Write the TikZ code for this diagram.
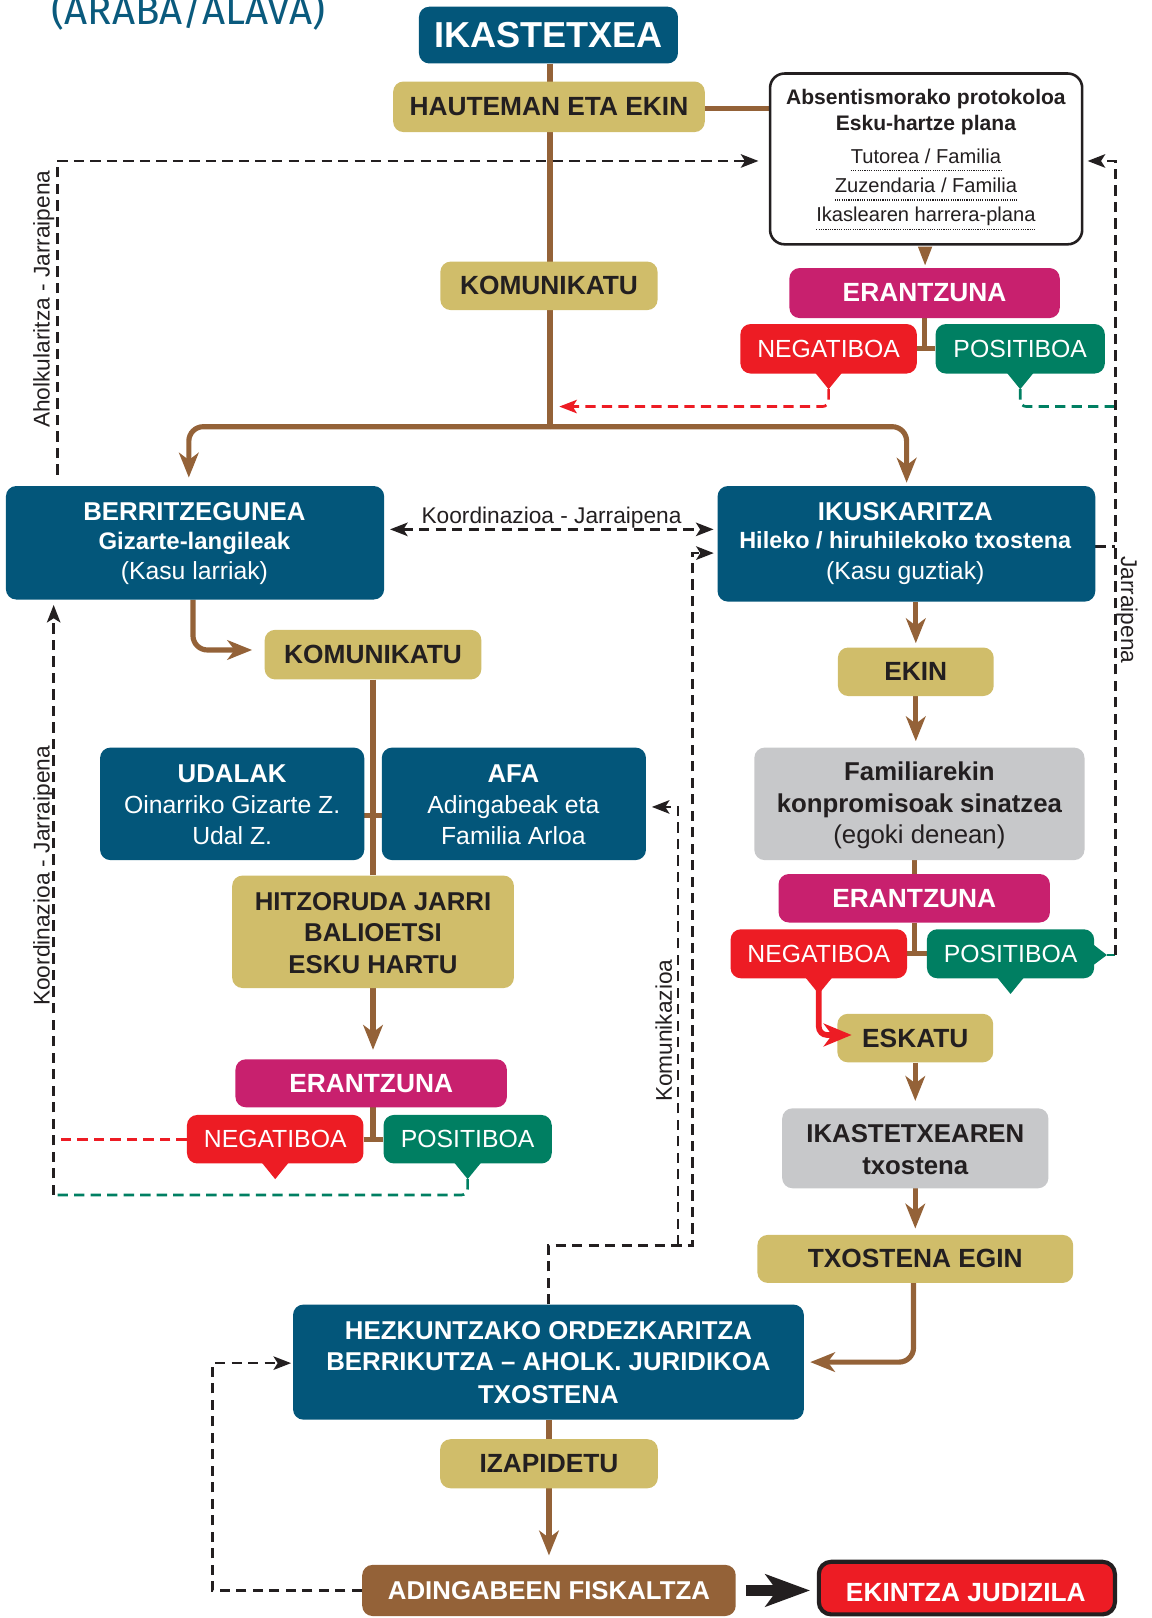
\documentclass[tikz,border=0pt]{standalone}
\usepackage{fontspec}
\setmainfont{Liberation Sans}
\newfontfamily\titlefont{Fira Sans}
\usetikzlibrary{arrows.meta,calc}
\definecolor{cblue}{RGB}{3,86,122}
\definecolor{cgold}{RGB}{208,189,106}
\definecolor{cmag}{RGB}{200,32,110}
\definecolor{cred}{RGB}{237,28,36}
\definecolor{cgreen}{RGB}{0,127,98}
\definecolor{cgray}{RGB}{199,200,202}
\definecolor{cbrown}{RGB}{148,98,56}
\definecolor{cdark}{RGB}{35,31,32}
\definecolor{ctitle}{RGB}{10,90,125}
\pgfdeclarelayer{bg}
\pgfsetlayers{bg,main}
\newcommand\fsz[1]{\fontsize{#1}{#1}\selectfont}
\newcommand\mkptr[3]{%
  \fill[#2] ($(#1.south)+(-13,-1)$) -- ($(#1.south)+(0,15)$) -- ($(#1.south)+(13,-1)$) -- cycle;
  \coordinate (#3) at ($(#1.south)+(0,15)$);}
\tikzset{
  bx/.style 2 args={minimum width=#1pt, minimum height=#2pt},
  boxbase/.style={rectangle, rounded corners=10pt, inner sep=0pt},
  blu/.style={boxbase, fill=cblue, text=white, font=\bfseries\fsz{25}},
  gld/.style={boxbase, fill=cgold, text=cdark, font=\bfseries\fsz{25.5}},
  mag/.style={boxbase, fill=cmag, text=white, font=\bfseries\fsz{25.5}},
  negb/.style={boxbase, fill=cred, text=white, font=\fsz{24}},
  posb/.style={boxbase, fill=cgreen, text=white, font=\fsz{24}},
  gry/.style={boxbase, fill=cgray, text=cdark},
  lt/.style={inner sep=0pt, outer sep=0pt, anchor=base},
  wb/.style={lt, text=white, font=\bfseries\fsz{#1}},
  wr/.style={lt, text=white, font=\fsz{#1}},
  db/.style={lt, text=cdark, font=\bfseries\fsz{#1}},
  dr/.style={lt, text=cdark, font=\fsz{#1}},
  lbl/.style={lt, text=cdark, font=\fsz{22}},
  brn/.style={draw=cbrown, line width=5pt},
  brnarrow/.style={-{Stealth[length=24pt,width=19pt,inset=7pt]}},
  karrow/.style={-{Stealth[length=17pt,width=13pt,inset=4pt]}},
  dsh/.style={line width=2.6pt, dash pattern=on 10pt off 6pt},
  kdash/.style={dsh, draw=cdark},
  rdash/.style={dsh, draw=cred},
  gdash/.style={dsh, draw=cgreen},
  dotl/.style={draw=cdark, line width=1.3pt, dash pattern=on 1.1pt off 1.1pt}
}
\begin{document}
\begin{tikzpicture}[x=1pt,y=-1pt]
\useasboundingbox (0,0) rectangle (1115.5,1568);

% title
\node[lt, anchor=base west, text=ctitle, font=\titlefont\fsz{39}] (title) at (50,24.2) {(ARABA/ALAVA)};

% ---------- boxes ----------
\node[blu, bx={251}{55}, font=\bfseries\fsz{35}] (ikast) at (531.5,34) {IKASTETXEA};
\node[gld, bx={302}{49}] (haut) at (532,103.5) {HAUTEMAN ETA EKIN};
\node[boxbase, draw=cdark, line width=2.5pt, fill=white, rounded corners=14pt, bx={302.5}{165.5}] (abs) at (897.5,154) {};
\node[gld, bx={210.5}{47}] (komu1) at (532,277) {KOMUNIKATU};
\node[mag, bx={262}{48.5}] (er1) at (896,284) {ERANTZUNA};
\node[negb, bx={171}{48}] (neg1) at (803,338) {NEGATIBOA};
\node[posb, bx={164}{48}] (pos1) at (988.7,338) {POSITIBOA};
\node[blu, bx={366.5}{110}] (berri) at (189,526) {};
\node[blu, bx={366}{112}] (ikus) at (878.4,527) {};
\node[gld, bx={210}{48}] (komu2) at (361.5,634.4) {KOMUNIKATU};
\node[blu, bx={256}{109}] (udal) at (225,779) {};
\node[blu, bx={256}{109}] (afa) at (498,779) {};
\node[gld, bx={273}{109}] (hitz) at (361.5,903) {};
\node[mag, bx={263}{46.5}] (er2) at (359.7,1049.8) {ERANTZUNA};
\node[negb, bx={171}{47}] (neg2) at (266.7,1104) {NEGATIBOA};
\node[posb, bx={163}{47}] (pos2) at (453.2,1104) {POSITIBOA};
\node[gld, bx={151}{47}] (ekin) at (887.5,651) {EKIN};
\node[gry, bx={320}{109}] (fam) at (891,779) {};
\node[mag, bx={263}{47}] (er3) at (886,870.5) {ERANTZUNA};
\node[negb, bx={171}{47.5}] (neg3) at (793.5,924.3) {NEGATIBOA};
\node[posb, bx={162}{47.5}] (pos3) at (979.3,924.3) {POSITIBOA};
\node[gld, bx={151}{47}] (eskatu) at (887,1006) {ESKATU};
\node[gry, bx={258}{77.5}] (ikrep) at (887,1112.8) {};
\node[gld, bx={306}{46.5}] (txeg) at (887,1220) {TXOSTENA EGIN};
\node[blu, bx={495}{111.5}] (hezk) at (531.5,1320) {};
\node[gld, bx={211}{47.5}] (izap) at (532,1418.5) {IZAPIDETU};
\node[boxbase, fill=cbrown, text=white, font=\bfseries\fsz{25}, bx={362}{49.5}] (fisk) at (532,1541.3) {ADINGABEEN FISKALTZA};
\node[boxbase, fill=cred, draw=cdark, line width=4pt, rounded corners=12pt, bx={287}{51}] (jud) at (937,1539) {};
\node[wb=25.5] (judT) at (936,1552) {EKINTZA JUDIZILA};

% ---------- texts inside boxes ----------
\node[db=20.4] (absA) at (897.3,101) {Absentismorako protokoloa};
\node[db=20.4] (absB) at (897.3,126) {Esku-hartze plana};
\node[dr=19.5] (absC) at (897.3,158.3) {Tutorea / Familia};
\node[dr=19.5] (absD) at (897.3,186.7) {Zuzendaria / Familia};
\node[dr=19.5] (absE) at (897.3,214.8) {Ikaslearen harrera-plana};
\draw[dotl] ($(absC.base west)+(0,7.2)$) -- ($(absC.base east)+(0,7.2)$);
\draw[dotl] ($(absD.base west)+(0,7.2)$) -- ($(absD.base east)+(0,7.2)$);
\draw[dotl] ($(absE.base west)+(0,7.4)$) -- ($(absE.base east)+(0,7.4)$);

\node[wb=25] (berriA) at (188.4,504.8) {BERRITZEGUNEA};
\node[wb=23.2] (berriB) at (188.4,532.3) {Gizarte-langileak};
\node[wr=24] (berriC) at (188.4,562) {(Kasu larriak)};

\node[wb=25] (ikusA) at (877.3,504.5) {IKUSKARITZA};
\node[wb=22.7] (ikusB) at (877.3,532) {Hileko / hiruhilekoko txostena};
\node[wr=24] (ikusC) at (877.3,562) {(Kasu guztiak)};

\node[wb=25] (udalA) at (225,758) {UDALAK};
\node[wr=24] (udalB) at (225,788) {Oinarriko Gizarte Z.};
\node[wr=24] (udalC) at (225,818.8) {Udal Z.};

\node[wb=25] (afaA) at (497.5,758) {AFA};
\node[wr=24] (afaB) at (497.5,788) {Adingabeak eta};
\node[wr=24] (afaC) at (497.5,818.8) {Familia Arloa};

\node[db=25] (hitzA) at (361.5,881.9) {HITZORUDA JARRI};
\node[db=25] (hitzB) at (361.5,912.5) {BALIOETSI};
\node[db=25] (hitzC) at (361.5,943.1) {ESKU HARTU};

\node[db=25] (famA) at (891,756.8) {Familiarekin};
\node[db=25] (famB) at (891,787.5) {konpromisoak sinatzea};
\node[dr=25] (famC) at (891,817.2) {(egoki denean)};

\node[db=25] (ikrepA) at (887,1107.2) {IKASTETXEAREN};
\node[db=25] (ikrepB) at (887,1138.6) {txostena};

\node[wb=25] (hezkA) at (531.5,1297.8) {HEZKUNTZAKO ORDEZKARITZA};
\node[wb=25] (hezkB) at (531.5,1328.2) {BERRIKUTZA – AHOLK. JURIDIKOA};
\node[wb=25] (hezkC) at (531.5,1359.8) {TXOSTENA};

% ---------- labels ----------
\node[lbl, rotate=90] (lblAhol) at (48.2,290) {Aholkularitza - Jarraipena};
\node[lbl, rotate=90] (lblKoorV) at (48.2,848.8) {Koordinazioa - Jarraipena};
\node[lbl, rotate=90] (lblKomu) at (651,998.8) {Komunikazioa};
\node[lbl, rotate=-90] (lblJarr) at (1086.5,591) {Jarraipena};
\node[lbl] (lblKoorH) at (534.5,507) {Koordinazioa - Jarraipena};

% ---------- pointers ----------
\mkptr{neg1}{cred}{neg1t}
\mkptr{pos1}{cgreen}{pos1t}
\mkptr{neg2}{cred}{neg2t}
\mkptr{pos2}{cgreen}{pos2t}
\mkptr{neg3}{cred}{neg3t}
\mkptr{pos3}{cgreen}{pos3t}
\fill[cgreen] ($(pos3.east)+(-1,-9)$) -- ($(pos3.east)+(12.2,1.2)$) -- ($(pos3.east)+(-1,11)$) -- cycle;
\coordinate (pos3r) at ($(pos3.east)+(12.2,1.2)$);
\fill[cbrown] ($(abs.south)+(-8,1)$) -- ($(abs.south)+(-1,19)$) -- ($(abs.south)+(6,1)$) -- cycle;

% ---------- connectors (background) ----------
\begin{pgfonlayer}{bg}
\coordinate (J) at (533,413.5);
\draw[brn] (ikast.south -| J) -- (J);
\draw[brn] ($(haut.east)+(0,1.5)$) -- ($(abs.west)+(0,-49)$);
\draw[brn, brnarrow, rounded corners=14pt] (J) -| ($(berri.north)+(-6,-8)$);
\draw[brn, brnarrow, rounded corners=14pt] (J) -| ($(ikus.north)+(0.2,-3)$);
\draw[brn] (er1.south) -- (er1.south |- neg1.east);
\draw[brn] (neg1.east) -- (pos1.west);

\coordinate (trunkR) at (542,394);
\draw[rdash, karrow, rounded corners=6pt] (neg1t) |- (trunkR);
\coordinate (RV1) at (1081,394);
\draw[gdash, rounded corners=6pt] (pos1t) |- (RV1);
\draw[gdash] (pos3r) -- (pos3r -| RV1);
\draw[kdash, karrow] (pos3r -| RV1) |- ($(abs.east)+(4,2)$);
\draw[kdash] ($(ikus.east)+(0,2.7)$) -- ($(ikus.east -| RV1)+(0,2.7)$);

\coordinate (tlA) at (55.6,460);
\draw[kdash, karrow] (tlA) |- ($(abs.west)+(-10,2)$);

\draw[kdash, {Stealth[length=17pt,width=13pt,inset=4pt]}-{Stealth[length=17pt,width=13pt,inset=4pt]}] ($(berri.east)+(5.5,-13)$) -- ($(ikus.west)+(-3.7,-14)$);

\coordinate (kR) at (671,1207);
\coordinate (kL) at (657,1207);
\draw[kdash, karrow] (hezk.north) |- (kR) |- ($(ikus.west)+(-3.5,9)$);
\draw[kdash, karrow] (kL) |- ($(afa.east)+(5.5,3)$);

\draw[brn, brnarrow, rounded corners=14pt] ($(berri.south)+(-2,0)$) |- ($(komu2.west)+(-12,-4.5)$);
\draw[brn] (komu2.south) -- (hitz.north);
\draw[brn] ($(udal.east)+(0,11)$) -- ($(afa.west)+(0,11)$);
\draw[brn, brnarrow] (hitz.south) -- ($(er2.north)+(1.8,-9)$);
\draw[brn] (hitz.south |- er2.south) -- (hitz.south |- neg2.east);
\draw[brn] (neg2.east) -- (pos2.west);

\coordinate (LV) at (52,1158);
\draw[rdash] (neg2.west) -- (neg2.west -| LV);
\draw[gdash, rounded corners=6pt] (pos2t) |- (LV);
\draw[kdash, karrow] (LV) -- ($(berri.south -| LV)+(0,5)$);

\draw[brn, brnarrow] (ikus.south -| ekin.north) -- ($(ekin.north)+(0,-4)$);
\draw[brn, brnarrow] (ekin.south) -- ($(fam.north -| ekin.south)+(0,-6)$);
\draw[brn] (fam.south -| er3.north) -- (er3.north);
\draw[brn] (er3.south) -- (er3.south |- neg3.east);
\draw[brn] (neg3.east) -- (pos3.west);
\draw[brn, brnarrow] (eskatu.south) -- ($(ikrep.north)+(0,-7)$);
\draw[brn, brnarrow] (ikrep.south) -- ($(txeg.north)+(0,-6)$);
\draw[brn, brnarrow, rounded corners=14pt] ($(txeg.south)+(-1.7,0)$) |- ($(hezk.east)+(6,0)$);
\draw[brn, brnarrow] (hezk.south -| izap.south) -- ($(fisk.north -| izap.south)+(0,-9)$);

\coordinate (fL) at (205.8,1541.3);
\draw[kdash, karrow] (fisk.west) -- (fL) |- ($(hezk.west)+(-1.7,1)$);
\end{pgfonlayer}

% ---------- foreground arrows ----------
\draw[cred, line width=5.5pt, rounded corners=8pt, -{Stealth[length=27pt,width=22pt,inset=8pt]}] (neg3.south) |- ($(eskatu.west)+(14,-3)$);
\draw[cdark, line width=11pt, -{Stealth[length=43pt,width=31pt,inset=11pt]}] ($(fisk.east)+(9.5,0)$) -- ($(fisk.east -| jud.west)+(-6.5,0)$);
\end{tikzpicture}
\end{document}
